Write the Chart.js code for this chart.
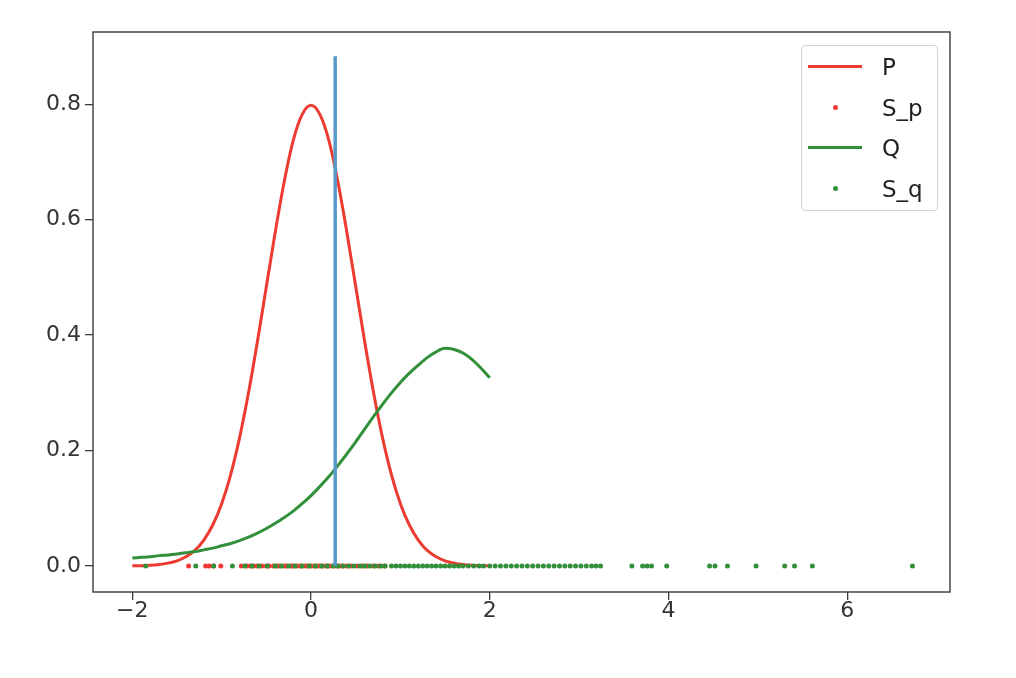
<!DOCTYPE html>
<html>
<head>
<meta charset="utf-8">
<script src="https://cdn.jsdelivr.net/npm/chart.js@4/dist/chart.umd.min.js"></script>
<style>
  body { margin: 0; background: #fff; }
  #wrap { position: relative; width: 1016px; height: 678px; }
  #legend {
    position: absolute; left: 801px; top: 45px; width: 137px; height: 166px;
    border: 1px solid #d2d2d2; border-radius: 4px; background: rgba(255,255,255,0.85);
    box-sizing: border-box; font-family: "DejaVu Sans", sans-serif; font-size: 23px; color: #222;
  }
  .row { position: absolute; left: 0; height: 28px; width: 100%; }
  .sw { position: absolute; left: 6px; width: 54px; top: 0; height: 28px; }
  .sw .ln { position: absolute; left: 0; right: 0; top: 12px; height: 3px; }
  .sw .dt { position: absolute; left: 25px; top: 11px; width: 5px; height: 5px; border-radius: 50%; }
  .lab { position: absolute; left: 80px; top: 0; line-height: 28px; }
</style>
</head>
<body>
<div id="wrap">
  <canvas id="grafico" width="1016" height="678"></canvas>
  <div id="legend"></div>
</div>
<script>
// curve x positions (-2 .. 2, step 0.1)
const xsCurve = [-2.0,-1.9,-1.8,-1.7,-1.6,-1.5,-1.4,-1.3,-1.2,-1.1,-1.0,-0.9,-0.8,-0.7,-0.6,-0.5,-0.4,-0.3,-0.2,-0.1,
  0.0,0.1,0.2,0.3,0.4,0.5,0.6,0.7,0.8,0.9,1.0,1.1,1.2,1.3,1.4,1.5,1.6,1.7,1.8,1.9,2.0];

const valoresP = [0.0003,0.0006,0.0012,0.0025,0.005,0.009,0.016,0.027,0.045,0.071,0.108,0.158,0.222,0.300,0.389,0.484,0.579,0.666,0.737,0.782,
  0.798,0.782,0.737,0.666,0.579,0.484,0.389,0.300,0.222,0.158,0.108,0.071,0.045,0.027,0.016,0.009,0.005,0.0025,0.0012,0.0006,0.0003];

const valoresQ = [0.014,0.015,0.016,0.018,0.019,0.021,0.023,0.025,0.028,0.031,0.035,0.039,0.044,0.050,0.057,0.065,0.074,0.084,0.095,0.108,
  0.122,0.138,0.155,0.174,0.194,0.215,0.237,0.259,0.280,0.300,0.318,0.334,0.348,0.361,0.371,0.377,0.375,0.369,0.358,0.343,0.326];

// samples, all drawn at y = 0
const muestrasP = [-1.37,-1.18,-1.14,-1.09,-1.01,-0.78,-0.72,-0.68,-0.64,-0.6,-0.55,-0.5,-0.47,-0.42,-0.38,-0.35,-0.3,-0.27,-0.22,-0.2,
  -0.16,-0.12,-0.1,-0.06,-0.03,0.0,0.04,0.07,0.1,0.13,0.17,0.2,0.24,0.28,0.31,0.35,0.4,0.45,0.52,0.58,0.63,0.7,0.76,0.82];

const muestrasQ = [-1.85,-1.29,-1.09,-0.88,-0.74,-0.66,-0.58,-0.49,-0.4,-0.33,-0.25,-0.18,-0.1,-0.02,0.05,0.12,0.18,0.25,0.3,0.36,
  0.42,0.48,0.55,0.6,0.66,0.72,0.78,0.83,0.9,0.95,1.0,1.05,1.1,1.15,1.2,1.25,1.3,1.35,1.4,1.45,1.5,1.55,1.6,1.65,1.7,1.76,1.82,1.88,1.93,
  2.0,2.06,2.12,2.18,2.24,2.3,2.36,2.42,2.48,2.54,2.6,2.66,2.72,2.78,2.84,2.9,2.96,3.02,3.08,3.14,3.19,3.24,
  3.59,3.71,3.76,3.81,3.98,4.46,4.52,4.66,4.98,5.30,5.41,5.61,6.73];

// vertical marker
const lineaX = 0.27;
const lineaY = [0, 0.883];

const xTicks = [-2, 0, 2, 4, 6];
const yTicks = [0, 0.2, 0.4, 0.6, 0.8];

const rojo = "#ec3b30";
const verde = "#33903a";
const azul = "#5799c9";

const pts = (xs, ys) => xs.map((x, i) => ({ x: x, y: ys[i] }));
const enCero = xs => xs.map(x => ({ x: x, y: 0 }));

const marco = {
  id: "marco",
  afterDraw(c) {
    const a = c.chartArea, ctx = c.ctx;
    ctx.save();
    ctx.strokeStyle = "#3a3a3a";
    ctx.lineWidth = 1.4;
    ctx.strokeRect(a.left, a.top, a.right - a.left, a.bottom - a.top);
    ctx.restore();
  }
};

const ctx = document.getElementById("grafico").getContext("2d");
const chart = new Chart(ctx, {
  type: "scatter",
  data: {
    datasets: [
      { label: "P", data: pts(xsCurve, valoresP), showLine: true, borderColor: rojo, borderWidth: 3,
        pointRadius: 0, cubicInterpolationMode: "monotone", order: 4 },
      { label: "S_p", data: enCero(muestrasP), backgroundColor: rojo, borderWidth: 0, pointRadius: 2.5, order: 3 },
      { label: "Q", data: pts(xsCurve, valoresQ), showLine: true, borderColor: verde, borderWidth: 3,
        pointRadius: 0, cubicInterpolationMode: "monotone", order: 2 },
      { label: "S_q", data: enCero(muestrasQ), backgroundColor: verde, borderWidth: 0, pointRadius: 2.5, order: 1 },
      { label: "linea", data: lineaY.map(y => ({ x: lineaX, y: y })), showLine: true, borderColor: azul,
        borderWidth: 3.5, pointRadius: 0, order: 0 }
    ]
  },
  options: {
    responsive: false,
    animation: false,
    layout: { padding: { top: 32, right: 66, left: 0, bottom: 0 } },
    plugins: { legend: { display: false }, tooltip: { enabled: false } },
    scales: {
      x: {
        type: "linear", min: -2.44, max: 7.15,
        afterBuildTicks: s => { s.ticks = xTicks.map(v => ({ value: v })); },
        afterFit: s => { s.height = 86; },
        grid: { drawOnChartArea: false, color: "#3a3a3a", tickLength: 8, lineWidth: 1.3 },
        border: { display: false },
        ticks: {
          color: "#333", padding: -2, font: { family: "DejaVu Sans", size: 22 },
          callback: v => v < 0 ? "\u2212" + Math.abs(v) : String(v)
        }
      },
      y: {
        type: "linear", min: -0.045, max: 0.925,
        afterBuildTicks: s => { s.ticks = yTicks.map(v => ({ value: v })); },
        afterFit: s => { s.width = 93; },
        grid: { drawOnChartArea: false, color: "#3a3a3a", tickLength: 8, lineWidth: 1.3 },
        border: { display: false },
        ticks: {
          color: "#333", padding: 4, font: { family: "DejaVu Sans", size: 22 },
          callback: v => v.toFixed(1)
        }
      }
    }
  },
  plugins: [marco]
});

// html legend from the datasets
const legendDiv = document.getElementById("legend");
chart.data.datasets.filter(d => d.label !== "linea").forEach((d, i) => {
  const row = document.createElement("div");
  row.className = "row";
  row.style.top = (7 + i * 40.7) + "px";
  const color = d.showLine ? d.borderColor : d.backgroundColor;
  row.innerHTML = `<div class="sw">${d.showLine
      ? `<div class="ln" style="background:${color}"></div>`
      : `<div class="dt" style="background:${color}"></div>`}</div>
    <div class="lab">${d.label}</div>`;
  legendDiv.appendChild(row);
});
</script>
</body>
</html>
